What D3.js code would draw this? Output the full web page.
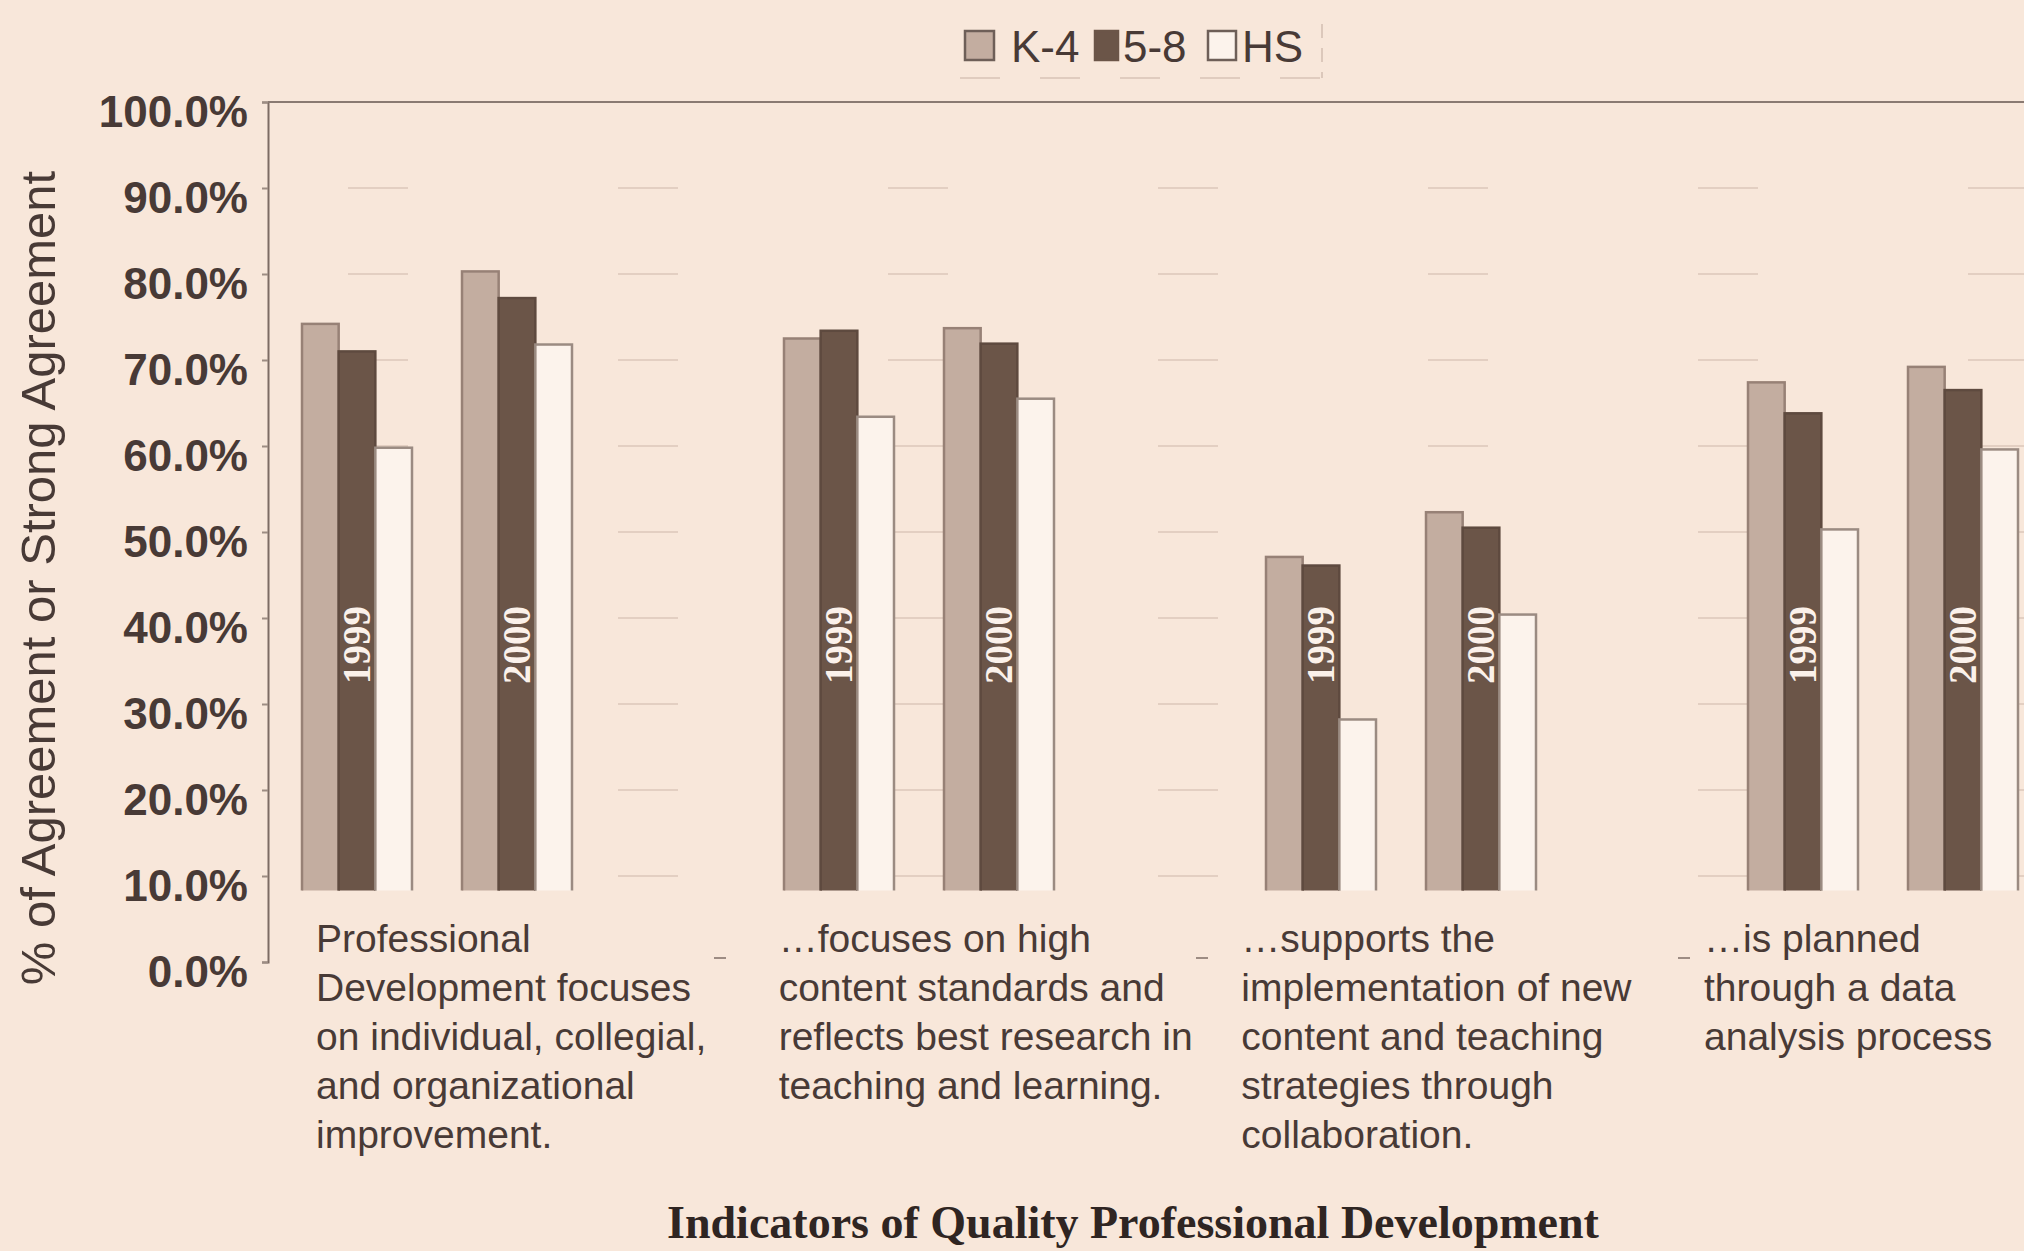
<!DOCTYPE html>
<html>
<head>
<meta charset="utf-8">
<script src="https://cdn.jsdelivr.net/npm/d3@7"></script>
<style>
  html, body { margin: 0; padding: 0; background: #f8e7da; }
  svg { display: block; }
</style>
</head>
<body>
<div id="chart"></div>
<script>
// data
var categories = ["c1", "c2", "c3", "c4"];
var catLabels = [
    ["Professional", "Development focuses", "on individual, collegial,", "and organizational", "improvement."],
    ["\u2026focuses on high", "content standards and", "reflects best research in", "teaching and learning."],
    ["\u2026supports the", "implementation of new", "content and teaching", "strategies through", "collaboration."],
    ["\u2026is  planned", "through a data", "analysis process"]
];
var years = ["1999", "2000"];
var series = ["K-4", "5-8", "HS"];
// one array per series and year, one value per category
var k4_1999 = [0.742, 0.725, 0.471, 0.674];
var g58_1999 = [0.710, 0.734, 0.461, 0.638];
var hs_1999 = [0.598, 0.634, 0.282, 0.503];
var k4_2000 = [0.803, 0.737, 0.523, 0.692];
var g58_2000 = [0.772, 0.719, 0.505, 0.665];
var hs_2000 = [0.718, 0.655, 0.404, 0.596];
var yTicks = [0, 0.1, 0.2, 0.3, 0.4, 0.5, 0.6, 0.7, 0.8, 0.9, 1.0];

var W = 2024, H = 1251;
var axisX = 268, plotRight = 2024;
var bg = "#f8e7da", ink = "#483a36";
var fills = {"K-4": "#c3ada0", "5-8": "#6b5548", "HS": "#fcf3ec"};
var strokes = {"K-4": "#978176", "5-8": "#5e4a3f", "HS": "#9b8b82"};

var rows = [];
categories.forEach(function (c, i) {
    var v99 = [k4_1999[i], g58_1999[i], hs_1999[i]];
    var v00 = [k4_2000[i], g58_2000[i], hs_2000[i]];
    series.forEach(function (s, j) {
        rows.push({cat: c, year: "1999", s: s, v: v99[j]});
        rows.push({cat: c, year: "2000", s: s, v: v00[j]});
    });
});

var svg = d3.select("#chart").append("svg")
    .attr("width", W)
    .attr("height", H)
    .style("font-family", "'Liberation Sans', Arial, sans-serif");

svg.append("rect").attr("width", W).attr("height", H).attr("fill", bg);

var y = d3.scaleLinear().domain([0, 1]).range([962, 102]);
var step = 482;
var xCat = d3.scaleBand().domain(categories).range([196, 196 + step * 4]).padding(0);
var xYear = d3.scalePoint().domain(years).range([step / 2 - 80, step / 2 + 80]);
var xSer = d3.scaleBand().domain(series).range([-55, 55]);
var xLabel = d3.scalePoint().domain(categories).range([316, 1704]);

// faint, broken gridlines like the scan
svg.append("g").selectAll("line")
    .data(yTicks.filter(function (d) { return d > 0 && d < 1; }))
    .enter().append("line")
    .attr("x1", axisX + 80).attr("x2", plotRight)
    .attr("y1", function (d) { return y(d); })
    .attr("y2", function (d) { return y(d); })
    .attr("stroke", "#e3cfc2")
    .attr("stroke-width", 2)
    .attr("stroke-dasharray", "60,210");

// bars sit behind the category label band, so clip them above it
svg.append("clipPath").attr("id", "plotclip")
    .append("rect")
    .attr("x", axisX).attr("y", y(1))
    .attr("width", plotRight - axisX)
    .attr("height", y(0.083) - y(1));

var bars = svg.append("g").attr("clip-path", "url(#plotclip)");
bars.selectAll("rect")
    .data(rows)
    .enter().append("rect")
    .attr("x", function (d) { return xCat(d.cat) + xYear(d.year) + xSer(d.s); })
    .attr("y", function (d) { return y(d.v); })
    .attr("width", xSer.bandwidth())
    .attr("height", function (d) { return y(0) - y(d.v); })
    .attr("fill", function (d) { return fills[d.s]; })
    .attr("stroke", function (d) { return strokes[d.s]; })
    .attr("stroke-width", 2.5);

// year labels inside the 5-8 bars
svg.append("g").selectAll("text")
    .data(rows.filter(function (d) { return d.s === "5-8"; }))
    .enter().append("text")
    .attr("transform", function (d) {
        var cx = xCat(d.cat) + xYear(d.year) + xSer(d.s) + xSer.bandwidth() / 2;
        return "translate(" + (cx + 13) + ",645) rotate(-90)";
    })
    .attr("text-anchor", "middle")
    .attr("fill", "#fbf1ea")
    .style("font-family", "'Liberation Serif', 'Times New Roman', serif")
    .style("font-weight", "bold")
    .style("font-size", "39px")
    .text(function (d) { return d.year; });

// y axis
var yAxis = d3.axisLeft(y)
    .tickValues(yTicks)
    .tickSize(6)
    .tickPadding(14)
    .tickFormat(d3.format(".1%"));
var ya = svg.append("g").attr("transform", "translate(" + axisX + ",0)").call(yAxis);
ya.select(".domain").attr("stroke", "#7d6c64").attr("stroke-width", 2);
ya.selectAll(".tick line").attr("stroke", "#9d8c83").attr("stroke-width", 2);
ya.selectAll(".tick text")
    .attr("fill", ink)
    .attr("dy", "0.55em")
    .style("font-size", "44px")
    .style("font-weight", "bold")
    .style("font-family", "'Liberation Sans', Arial, sans-serif");

// top frame line
svg.append("line")
    .attr("x1", axisX).attr("x2", plotRight)
    .attr("y1", y(1)).attr("y2", y(1))
    .attr("stroke", "#8a7a72").attr("stroke-width", 2);

// small category ticks on the baseline between the groups
svg.append("g").selectAll("line")
    .data(categories.slice(1))
    .enter().append("line")
    .attr("x1", function (d) { return xCat(d) + 36; })
    .attr("x2", function (d) { return xCat(d) + 48; })
    .attr("y1", y(0) - 4).attr("y2", y(0) - 4)
    .attr("stroke", "#9d8c83").attr("stroke-width", 2);

// category labels
var lab = svg.append("g").selectAll("text")
    .data(categories)
    .enter().append("text")
    .attr("x", function (d) { return xLabel(d); })
    .attr("y", 952)
    .attr("fill", ink)
    .style("font-size", "39px");
lab.selectAll("tspan")
    .data(function (d, i) { return catLabels[i]; })
    .enter().append("tspan")
    .attr("x", function () { return xLabel(d3.select(this.parentNode).datum()); })
    .attr("dy", function (d, i) { return i === 0 ? 0 : 49; })
    .text(function (d) { return d; });

// y axis title
svg.append("text")
    .attr("transform", "translate(55,578) rotate(-90)")
    .attr("text-anchor", "middle")
    .attr("fill", ink)
    .style("font-size", "49px")
    .text("% of Agreement or Strong Agreement");

// x axis title
svg.append("text")
    .attr("x", 1133).attr("y", 1238)
    .attr("text-anchor", "middle")
    .attr("fill", "#2f2522")
    .style("font-family", "'Liberation Serif', 'Times New Roman', serif")
    .style("font-weight", "bold")
    .style("font-size", "46px")
    .text("Indicators of Quality Professional Development");

// legend
var legX = [965, 1095, 1208];
var legW = [29, 23, 28];
var legTextX = [1011, 1123, 1242];
var leg = svg.append("g");
leg.append("line")
    .attr("x1", 1322).attr("x2", 1322).attr("y1", 24).attr("y2", 78)
    .attr("stroke", "#dcc8bb").attr("stroke-width", 2)
    .attr("stroke-dasharray", "14,10");
leg.append("line")
    .attr("x1", 960).attr("x2", 1322).attr("y1", 78).attr("y2", 78)
    .attr("stroke", "#e0ccbf").attr("stroke-width", 2)
    .attr("stroke-dasharray", "40,40");
series.forEach(function (s, i) {
    leg.append("rect")
        .attr("x", legX[i]).attr("y", 31)
        .attr("width", legW[i]).attr("height", 29)
        .attr("fill", fills[s])
        .attr("stroke", s === "5-8" ? fills[s] : "#6e5f58")
        .attr("stroke-width", 2.5);
    leg.append("text")
        .attr("x", legTextX[i]).attr("y", 62)
        .attr("fill", ink)
        .style("font-size", "44px")
        .text(s);
});
</script>
</body>
</html>
